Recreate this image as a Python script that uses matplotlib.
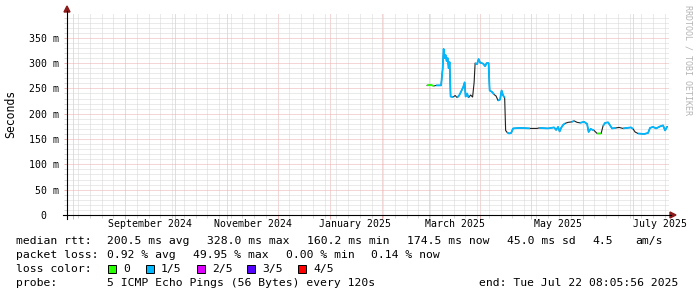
import numpy as np
import pandas as pd
import matplotlib
matplotlib.use("Agg")
import matplotlib.pyplot as plt
import matplotlib.dates as mdates
from matplotlib.patches import Polygon, Rectangle
from matplotlib.lines import Line2D

# median rtt samples (ms) and loss bucket per sample (0 = no loss, 1 = 1/5 ...)
sample_time = [
    "2025-02-28 04:00", "2025-03-01 23:00", "2025-03-04 08:00", "2025-03-05 13:00",
    "2025-03-08 12:00", "2025-03-09 10:00", "2025-03-10 00:00", "2025-03-10 14:00",
    "2025-03-11 05:00", "2025-03-11 19:00", "2025-03-12 10:00", "2025-03-13 00:00",
    "2025-03-13 14:00", "2025-03-14 04:00", "2025-03-15 16:00", "2025-03-16 21:00",
    "2025-03-18 02:00", "2025-03-19 06:00", "2025-03-20 11:00", "2025-03-21 15:00",
    "2025-03-22 13:00", "2025-03-23 03:00", "2025-03-24 00:00", "2025-03-24 22:00",
    "2025-03-26 03:00", "2025-03-27 07:00", "2025-03-28 05:00", "2025-03-28 19:00",
    "2025-03-29 23:00", "2025-03-30 21:00", "2025-03-31 19:00", "2025-04-02 14:00",
    "2025-04-03 18:00", "2025-04-04 16:00", "2025-04-05 20:00", "2025-04-06 11:00",
    "2025-04-07 22:00", "2025-04-09 03:00", "2025-04-10 07:00", "2025-04-11 12:00",
    "2025-04-12 16:00", "2025-04-13 14:00", "2025-04-14 12:00", "2025-04-15 10:00",
    "2025-04-16 00:00", "2025-04-16 22:00", "2025-04-18 02:00", "2025-04-19 07:00",
    "2025-04-20 11:00", "2025-04-24 14:00", "2025-04-30 14:00", "2025-05-04 18:00",
    "2025-05-05 23:00", "2025-05-11 08:00", "2025-05-14 22:00", "2025-05-16 03:00",
    "2025-05-17 07:00", "2025-05-18 05:00", "2025-05-19 02:00", "2025-05-20 07:00",
    "2025-05-21 11:00", "2025-05-23 06:00", "2025-05-25 15:00", "2025-05-26 20:00",
    "2025-05-28 15:00", "2025-05-30 10:00", "2025-06-01 19:00", "2025-06-03 14:00",
    "2025-06-04 12:00", "2025-06-05 16:00", "2025-06-07 18:00", "2025-06-09 14:00",
    "2025-06-11 23:00", "2025-06-13 03:00", "2025-06-14 08:00", "2025-06-16 03:00",
    "2025-06-17 07:00", "2025-06-18 12:00", "2025-06-20 21:00", "2025-06-22 16:00",
    "2025-06-25 01:00", "2025-06-27 10:00", "2025-06-29 19:00", "2025-07-01 00:00",
    "2025-07-02 05:00", "2025-07-04 00:00", "2025-07-07 14:00", "2025-07-09 23:00",
    "2025-07-11 03:00", "2025-07-12 22:00", "2025-07-14 18:00", "2025-07-17 03:00",
    "2025-07-18 22:00", "2025-07-20 03:00", "2025-07-21 08:00",
]
median_ms = [
    256, 257, 255, 256, 256, 288, 328, 310, 316, 304, 310, 290,
    302, 234, 233, 236, 232, 236, 244, 252, 262, 234, 240, 232,
    237, 233, 262, 300, 298, 308, 301, 299, 294, 300, 300, 246,
    243, 238, 235, 226, 228, 246, 236, 232, 167, 163, 161, 162,
    171, 172, 171, 171, 172, 171, 173, 168, 174, 165, 172, 178,
    181, 183, 184, 186, 183, 182, 184, 180, 164, 170, 167, 161,
    161, 176, 182, 183, 177, 171, 172, 173, 171, 172, 173, 170,
    164, 161, 160, 162, 172, 174, 171, 175, 177, 167, 174.5,
]
loss_bucket = [
    0, 0, 0, 1, 1, 1, 1, 1, 1, 1, 1, 1,
    1, 1, 1, 0, 1, 1, 1, 1, 1, 1, 1, 1,
    0, 1, 0, 1, 1, 1, 1, 1, 1, 1, 1, 1,
    1, 1, 0, 1, 1, 1, 1, 1, 0, 1, 1, 1,
    1, 1, 1, 0, 1, 1, 1, 1, 1, 1, 1, 1,
    1, 3, 1, 1, 0, 1, 1, 1, 1, 1, 1, 0,
    0, 1, 1, 1, 1, 1, 1, 0, 1, 1, 1, 1,
    0, 1, 1, 1, 1, 1, 1, 1, 1, 1, 1,
]

loss_labels = ["0", "1/5", "2/5", "3/5", "4/5"]
loss_colors = ["#26ff00", "#00b8ff", "#dd00ff", "#5500ff", "#ff0000"]

month_labels = ["September 2024", "November 2024", "January 2025", "March 2025",
                "May 2025", "July 2025"]
month_label_at = ["2024-09-16", "2024-11-16", "2025-01-16", "2025-03-17",
                  "2025-05-17", "2025-07-17"]

end_time = pd.Timestamp("2025-07-22 08:05:56")
start_time = end_time - pd.Timedelta(days=359)

MONO = "DejaVu Sans Mono"
GRID = "#d6d6d6"
MGRID = "#ebaeae"
ARROW = "#8b1a1a"

W, H = 697, 297
fig = plt.figure(figsize=(W / 100, H / 100), dpi=100)
fig.patch.set_facecolor("white")


def fx(px):
    return px / W


def fy(py):
    return 1 - py / H


x0, x1, y0, y1 = 67, 668.8, 215, 13
ax = fig.add_axes([fx(x0), fy(y0), fx(x1) - fx(x0), fy(y1) - fy(y0)])
ax.set_facecolor("white")
for s in ax.spines.values():
    s.set_visible(False)

t = pd.to_datetime(sample_time)
v = np.array(median_ms, dtype=float)
lb = np.array(loss_bucket)

ax.set_xlim(start_time, end_time)
ax.set_ylim(0, 399)

# grid
ax.xaxis.set_major_locator(mdates.MonthLocator())
ax.xaxis.set_minor_locator(mdates.WeekdayLocator(byweekday=mdates.SU))
ax.xaxis.set_major_formatter(plt.NullFormatter())
ax.set_yticks(np.arange(0, 400, 50))
ax.set_yticks(np.arange(0, 400, 10), minor=True)
ax.set_yticklabels(["0  "] + ["%d m" % y for y in range(50, 400, 50)],
                   family=MONO, fontsize=7.1)
dot = (0, (1, 1))
ax.grid(which="minor", color=GRID, lw=0.72, ls=dot)
ax.grid(which="major", color=MGRID, lw=0.72, ls=dot)
ax.set_axisbelow(True)
ax.tick_params(axis="both", which="minor", length=2, width=0.72, color=GRID)
ax.tick_params(axis="x", which="major", length=3, width=0.72, color=MGRID)
ax.tick_params(axis="y", which="major", length=2, width=0.72, color=MGRID, pad=3.6)

for lab, at in zip(month_labels, month_label_at):
    ax.text(pd.Timestamp(at), -0.045, lab, transform=ax.get_xaxis_transform(),
            ha="center", va="center", family=MONO, fontsize=7.1)

# median line, then loss colored overlay
ax.plot(t, v, color="#202020", lw=0.8, zorder=3)
for k, col in enumerate(loss_colors):
    vv = np.where(lb == k, v, np.nan)
    ax.plot(t, vv, color=col, lw=1.3, zorder=4, solid_capstyle="butt")

# axes with arrows
fig.add_artist(Line2D([fx(63), fx(671)], [fy(215), fy(215)], color="black", lw=0.8))
fig.add_artist(Line2D([fx(67), fx(67)], [fy(219), fy(11)], color="black", lw=0.8))
fig.add_artist(Polygon([[fx(670), fy(212)], [fx(676), fy(215)], [fx(670), fy(218)]],
                       closed=True, color=ARROW, transform=fig.transFigure))
fig.add_artist(Polygon([[fx(64), fy(12)], [fx(67), fy(6)], [fx(70), fy(12)]],
                       closed=True, color=ARROW, transform=fig.transFigure))

fig.text(fx(11), fy(114), "Seconds", rotation=90, ha="center", va="center",
         family=MONO, fontsize=8.3)
fig.text(fx(688), fy(60), "RRDTOOL / TOBI OETIKER", rotation=270, ha="center",
         va="center", family=MONO, fontsize=6, color="#b4b4b4")

# legend
lf = dict(family=MONO, fontsize=8.2, va="center", ha="left")
row1 = [(16, "median rtt:"), (107, "200.5 ms avg"), (207, "328.0 ms max"),
        (307, "160.2 ms min"), (407, "174.5 ms now"), (507, "45.0 ms sd"),
        (592, "4.5"), (635, "am/s")]
for px, s in row1:
    fig.text(fx(px), fy(241), s, **lf)
row2 = [(16, "packet loss:"), (107, "0.92 % avg"), (193, "49.95 % max"),
        (286, "0.00 % min"), (371, "0.14 % now")]
for px, s in row2:
    fig.text(fx(px), fy(255), s, **lf)
fig.text(fx(16), fy(269), "loss color:", **lf)
box_x = [108, 146, 197, 247, 298]
for bx, lab, col in zip(box_x, loss_labels, loss_colors):
    fig.add_artist(Rectangle((fx(bx), fy(273)), fx(8), 8 / H, facecolor=col,
                             edgecolor="black", lw=0.7, transform=fig.transFigure))
    fig.text(fx(bx + 15), fy(269), lab, **lf)
fig.text(fx(16), fy(283), "probe:", **lf)
fig.text(fx(107), fy(283), "5 ICMP Echo Pings (56 Bytes) every 120s", **lf)
fig.text(fx(479), fy(283), "end: Tue Jul 22 08:05:56 2025", **lf)

fig.savefig("out.png", dpi=100, facecolor="white")
